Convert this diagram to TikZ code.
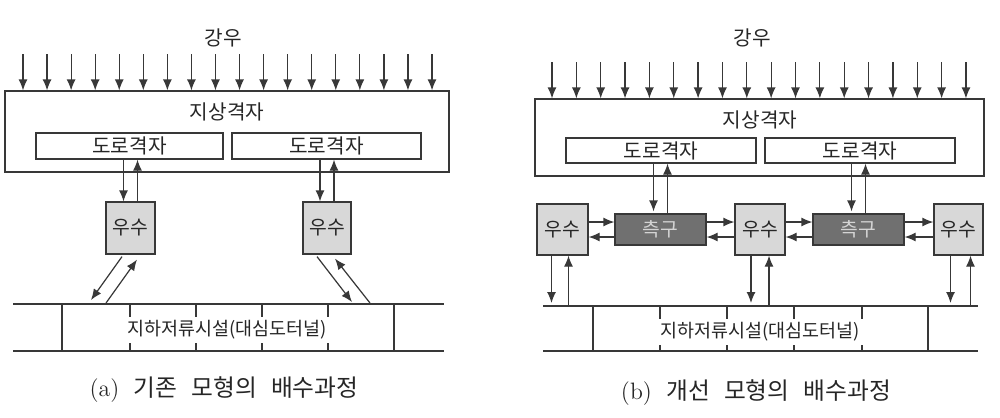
\documentclass[tikz,border=0pt]{standalone}
\usepackage{xcolor}
\usepackage{fontspec}
\usepackage{tikz}
\usetikzlibrary{arrows.meta}
\usetikzlibrary{calc}
\newfontfamily\kr{Noto Sans CJK KR}
\definecolor{lin}{HTML}{383838}
\definecolor{wsfill}{HTML}{D8D8D8}
\definecolor{sgfill}{HTML}{707070}
\definecolor{sgtext}{HTML}{D4D4D4}
\tikzset{
 box/.style={draw=lin, line width=.7pt, inner sep=0pt, text=black!85, font=\kr\fontsize{11.5}{13}\selectfont},
 wsbox/.style={box, fill=wsfill, font=\kr\fontsize{11}{13}\selectfont},
 sgbox/.style={box, fill=sgfill, text=sgtext, font=\kr\fontsize{11}{13}\selectfont},
 flow/.style={draw=lin, line width=.7pt, -{Latex[length=2.2mm,width=1.8mm]}},
 txt/.style={inner sep=1pt, text=black!85, font=\kr\fontsize{11.5}{13}\selectfont},
 tunnel/.style={draw=lin, line width=.7pt},
 tuntxt/.style={txt, fill=white, inner xsep=3pt, inner ysep=2pt, font=\kr\fontsize{10.5}{12}\selectfont},
 caption/.style={text=black!85, font=\fontsize{13.5}{15}\selectfont},
}
\begin{document}
\begin{tikzpicture}[x=.02cm,y=-.02cm]
\useasboundingbox (0,0) rectangle (1000,417);
% (a) existing model
\node[txt] (rainA) at (223,38) {강우};
\node[box, minimum width=8.88cm, minimum height=1.62cm] (gndA) at (227,131.5) {};
\node[txt] (gndtA) at (227,112) {지상격자};
\node[box, minimum width=3.74cm, minimum height=.52cm] (roadA1) at (129.5,146) {도로격자};
\node[box, minimum width=3.78cm, minimum height=.52cm] (roadA2) at (326.5,146) {도로격자};
\node[wsbox, minimum width=.98cm, minimum height=1.04cm] (wsA1) at (130.5,228) {우수};
\node[wsbox, minimum width=.96cm, minimum height=1.04cm] (wsA2) at (327,228) {우수};
\foreach \i [evaluate=\i as \x using 23+\i*24.06] in {0,...,17}
 \draw[flow] (\x,54) -- (\x,54 |- gndA.north);
\foreach \w/\r in {wsA1/roadA1, wsA2/roadA2} {
 \draw[flow] ($(\w.north |- \r.south)+(-7,0)$) -- ($(\w.north)+(-7,0)$);
 \draw[flow] ($(\w.north)+(7,0)$) -- ($(\w.north |- \r.south)+(7,0)$);
}
\draw[tunnel] (13,304) -- (444,304) (13,351) -- (444,351);
\foreach \x in {62,394,130,196,262,328}
 \draw[tunnel] (\x,304) -- (\x,351);
\node[tuntxt] (tunA) at (227,330) {지하저류시설(대심도터널)};
\coordinate (dA1) at (91,300);
\coordinate (dA2) at (106,303);
\coordinate (dA3) at (352,302);
\coordinate (dA4) at (370,303);
\draw[flow] ($(wsA1.south)+(-8.5,2)$) -- (dA1);
\draw[flow] (dA2) -- ($(wsA1.south)+(6.5,5)$);
\draw[flow] ($(wsA2.south)+(-10,2)$) -- (dA3);
\draw[flow] (dA4) -- ($(wsA2.south)+(8,4)$);
\node[caption] (capA) at (224,390) {(a)\hspace{.6em}{\kr 기존\hspace{.6em}모형의\hspace{.6em}배수과정}};
% (b) improved model
\node[txt] (rainB) at (752,38) {강우};
\node[box, minimum width=8.98cm, minimum height=1.54cm] (gndB) at (759.5,137.5) {};
\node[txt] (gndtB) at (760,120) {지상격자};
\node[box, minimum width=3.8cm, minimum height=.5cm] (roadB1) at (661,150.5) {도로격자};
\node[box, minimum width=3.8cm, minimum height=.5cm] (roadB2) at (860,150.5) {도로격자};
\node[wsbox, minimum width=1.02cm, minimum height=1.02cm] (wsB1) at (562.5,229.5) {우수};
\node[wsbox, minimum width=1cm, minimum height=1.02cm] (wsB2) at (760,229.5) {우수};
\node[wsbox, minimum width=.98cm, minimum height=1.02cm] (wsB3) at (958.5,229.5) {우수};
\node[sgbox, minimum width=1.82cm, minimum height=.62cm] (sgB1) at (660.5,229.5) {측구};
\node[sgbox, minimum width=1.82cm, minimum height=.62cm] (sgB2) at (858.5,229.5) {측구};
\foreach \i [evaluate=\i as \x using 552+\i*24.35] in {0,...,17}
 \draw[flow] (\x,62) -- (\x,62 |- gndB.north);
\foreach \s/\r in {sgB1/roadB1, sgB2/roadB2} {
 \draw[flow] ($(\s.north |- \r.south)+(-7,0)$) -- ($(\s.north)+(-7,-2)$);
 \draw[flow] ($(\s.north)+(7,0)$) -- ($(\s.north |- \r.south)+(7,0)$);
}
\foreach \a/\b in {wsB1/sgB1, sgB1/wsB2, wsB2/sgB2, sgB2/wsB3} {
 \draw[flow] ($(\a.east)+(0,-7.5)$) -- ($(\b.west)+(0,-7.5)$);
 \draw[flow] ($(\b.west)+(0,7.5)$) -- ($(\a.east)+(0,7.5)$);
}
\coordinate (topB) at (543,306);
\draw[tunnel] (topB) -- (978,306) (543,351) -- (978,351);
\foreach \x in {593,928,660,727,794,862}
 \draw[tunnel] (\x,306) -- (\x,351);
\node[tuntxt] (tunB) at (760,332) {지하저류시설(대심도터널)};
\foreach \w/\d/\u in {wsB1/-11/6, wsB2/-9/9, wsB3/-8/12} {
 \draw[flow] ($(\w.south)+(\d,0)$) -- ($(\w.south |- topB)+(\d,-3)$);
 \draw[flow] ($(\w.south |- topB)+(\u,0)$) -- ($(\w.south)+(\u,0)$);
}
\node[caption] (capB) at (756,393) {(b)\hspace{.6em}{\kr 개선\hspace{.6em}모형의\hspace{.6em}배수과정}};
\end{tikzpicture}
\end{document}
